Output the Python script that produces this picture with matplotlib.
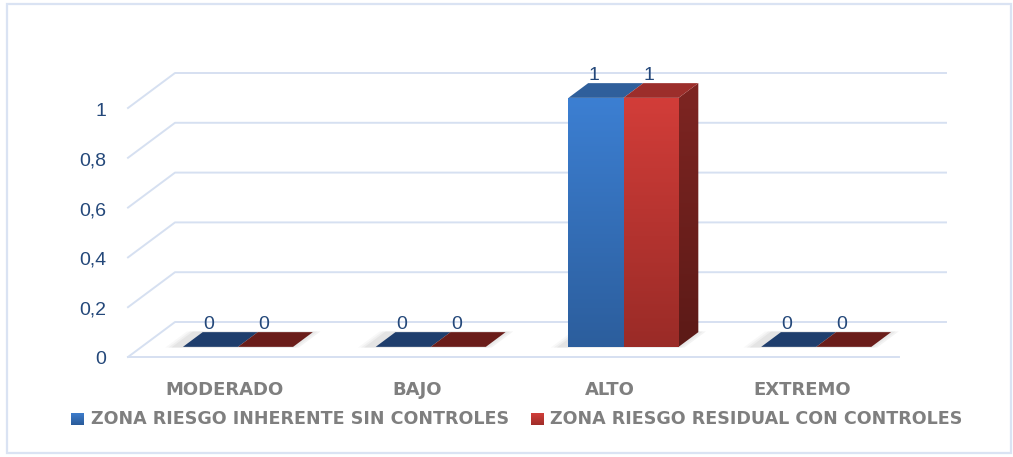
import matplotlib
matplotlib.use('Agg')
import matplotlib.pyplot as plt
import matplotlib.transforms as mtransforms
from matplotlib.patches import Polygon, Rectangle
import numpy as np

categories = ['MODERADO', 'BAJO', 'ALTO', 'EXTREMO']
inherente = [0, 0, 1, 0]
residual = [0, 0, 1, 0]
series_names = ['ZONA RIESGO INHERENTE SIN CONTROLES', 'ZONA RIESGO RESIDUAL CON CONTROLES']
yticks = [0, 0.2, 0.4, 0.6, 0.8, 1.0]
ytick_labels = ['0', '0,2', '0,4', '0,6', '0,8', '1']

W, H, DPI = 1013, 457, 100
fig = plt.figure(figsize=(W / DPI, H / DPI), dpi=DPI)
ax = fig.add_axes([128 / W, (H - 357) / H, 771 / W, 249 / H])
ax.set_xlim(-0.5, len(categories) - 0.5)
ax.set_ylim(0, 1)
ax.axis('off')
IDT = mtransforms.IdentityTransform()

DX, DY = 47.0, 35.0   # full floor depth in pixels
F0, F1 = 0.29, 0.71   # bar depth span
BW = 1 / 3.5          # bar width (gap 150%)

def P(x, v, f):
    px, py = ax.transData.transform((x, v))
    return (px + f * DX, py + f * DY)

grid_c = '#d6e0f1'
txt_blue = '#24487a'
gray = '#7f7f7f'

# border
fig.patches.append(Rectangle((7, H - 453), 1004, 449, transform=IDT, fill=False,
                             edgecolor='#dae3f3', lw=1.6))

# gridlines
xl, xr = -0.5, len(categories) - 0.5
for v in yticks:
    a = P(xl, v, 0); b = P(xl, v, 1); c = P(xr, v, 1)
    ax.add_line(plt.Line2D([a[0], b[0], c[0]], [a[1], b[1], c[1]], transform=IDT,
                           color=grid_c, lw=1.4, clip_on=False, zorder=1))
fr = P(xr, 0, 0)
a = P(xl, 0, 0)
ax.add_line(plt.Line2D([a[0], fr[0]], [a[1], fr[1]], transform=IDT,
                       color=grid_c, lw=1.4, clip_on=False, zorder=1))

# tick labels
for v, lab in zip(yticks, ytick_labels):
    x, y = P(xl, v, 0)
    fig.text(x - 22, y - 3, lab, transform=IDT, ha='right', va='center',
             fontsize=14, color=txt_blue, family='Liberation Sans')

def gradient_face(poly, ctop, cbot, z):
    xs = [p[0] for p in poly]; ys = [p[1] for p in poly]
    n = 64
    t = np.linspace(0, 1, n)[:, None]
    c1 = np.array(matplotlib.colors.to_rgb(ctop)); c2 = np.array(matplotlib.colors.to_rgb(cbot))
    img = (c1[None, :] * (1 - t) + c2[None, :] * t)[:, None, :]
    im = ax.imshow(img, extent=(min(xs), max(xs), min(ys), max(ys)), origin='upper',
                   transform=IDT, aspect='auto', zorder=z, interpolation='bilinear')
    patch = Polygon(poly, closed=True, transform=IDT, facecolor='none', edgecolor='none')
    ax.add_patch(patch)
    im.set_clip_path(patch)
    im.set_clip_box(fig.bbox)

def shadow(poly, dx, z=2):
    for k, al in [(9, 0.05), (6, 0.07), (3, 0.09)]:
        sh = [(p[0] - k * dx, p[1]) for p in poly]
        ax.add_patch(Polygon(sh, closed=True, transform=IDT, facecolor='#7a7a7a',
                             alpha=al, edgecolor='none', zorder=z, clip_on=False))

styles = [
    dict(front=('#3c7fd2', '#2c5e9d'), top='#2f5f9b', side=('#23497a', '#1b3960'), flat='#1f3e6d'),
    dict(front=('#d23d39', '#9a2b27'), top='#9c2e2b', side=('#7e2522', '#5c1a17'), flat='#6a1d1a'),
]

for i, cat in enumerate(categories):
    vmax = max(inherente[i], residual[i])
    xa = i - BW
    xb = i + BW
    # floor shadow under each category
    shp = [P(xa - 0.04, 0, F0 - 0.02), P(xb + 0.05, 0, F0 - 0.02),
           P(xb + 0.05, 0, F1 + 0.02), P(xa - 0.04, 0, F1 + 0.02)]
    shadow(shp, 1)
    for s, vals in enumerate([inherente, residual]):
        v = vals[i]
        st = styles[s]
        x0 = i - BW + s * BW
        x1 = x0 + BW
        z = 3 + s
        if v > 0:
            front = [P(x0, 0, F0), P(x1, 0, F0), P(x1, v, F0), P(x0, v, F0)]
            top = [P(x0, v, F0), P(x1, v, F0), P(x1, v, F1), P(x0, v, F1)]
            side = [P(x1, 0, F0), P(x1, v, F0), P(x1, v, F1), P(x1, 0, F1)]
            if s == 1:
                gradient_face(side, st['side'][0], st['side'][1], z)
            gradient_face(front, st['front'][0], st['front'][1], z + 0.1)
            ax.add_patch(Polygon(top, closed=True, transform=IDT, facecolor=st['top'],
                                 edgecolor='none', zorder=z + 0.2, clip_on=False))
        else:
            flat = [P(x0, 0, F0), P(x1, 0, F0), P(x1, 0, F1), P(x0, 0, F1)]
            ax.add_patch(Polygon(flat, closed=True, transform=IDT, facecolor=st['flat'],
                                 edgecolor='none', zorder=z, clip_on=False))
        # data label
        cx = P((x0 + x1) / 2, v, F0)[0]
        ty = P((x0 + x1) / 2, v, F1)[1]
        fig.text(cx - 2, ty + 3, f'{v:g}', transform=IDT, ha='center', va='baseline',
                 fontsize=14, color=txt_blue, family='Liberation Sans')
    # category label
    x, y = P(i, 0, 0)
    fig.text(x, H - 390, cat, transform=IDT, ha='center', va='center', fontsize=13,
             fontweight='bold', color=gray, family=['DejaVu Sans'])

# legend
leg_y = H - 419
def legend_square(x, ctop, cbot):
    poly = [(x, leg_y - 6.5), (x + 13, leg_y - 6.5), (x + 13, leg_y + 6.5), (x, leg_y + 6.5)]
    gradient_face(poly, ctop, cbot, 5)

legend_square(71, '#3f80d0', '#2a5a99')
fig.text(91, leg_y, series_names[0], transform=IDT, ha='left', va='center', fontsize=12.6,
         fontweight='bold', color=gray, family=['DejaVu Sans'])
legend_square(531, '#d4403b', '#a02d29')
fig.text(550, leg_y, series_names[1], transform=IDT, ha='left', va='center', fontsize=12.6,
         fontweight='bold', color=gray, family=['DejaVu Sans'])

ax.set_xlim(-0.5, len(categories) - 0.5)
ax.set_ylim(0, 1)
fig.savefig('out.png', dpi=DPI)
